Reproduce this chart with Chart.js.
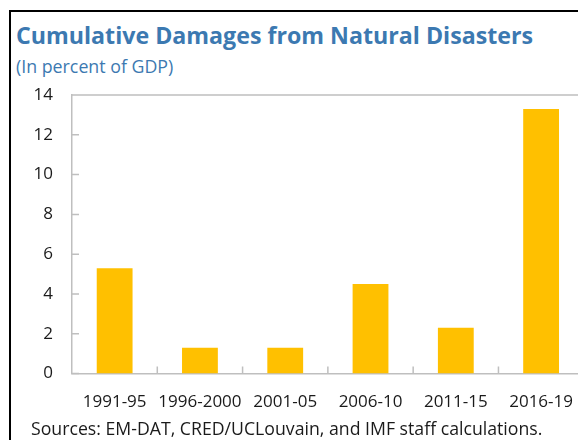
<!DOCTYPE html>
<html>
<head>
<meta charset="utf-8">
<script src="https://cdn.jsdelivr.net/npm/chart.js@4"></script>
<style>
  html, body { margin: 0; padding: 0; width: 578px; height: 440px; overflow: hidden; background: #fff; }
  .frame { position: absolute; left: 9px; top: 10px; width: 620px; height: 500px; border-top: 2px solid #000; border-left: 2px solid #000; }
  .title { position: absolute; left: 16px; top: 19px; font-family: "Open Sans", sans-serif; font-weight: 700; font-size: 23.2px; color: #3C79B1; white-space: nowrap; }
  .subtitle { position: absolute; left: 16px; top: 54px; font-family: "Open Sans", sans-serif; font-size: 17.8px; color: #3C79B1; white-space: nowrap; }
  .footer { position: absolute; left: 31px; top: 416px; font-family: "Open Sans", sans-serif; font-size: 17.7px; color: #1a1a1a; white-space: nowrap; }
  .wrap { position: absolute; left: 0; top: 0; width: 591px; height: 440px; }
</style>
</head>
<body>
<div class="frame"></div>
<div class="title">Cumulative Damages from Natural Disasters</div>
<div class="subtitle">(In percent of GDP)</div>
<div class="wrap"><canvas id="chart"></canvas></div>
<div class="footer">Sources: EM-DAT, CRED/UCLouvain, and IMF staff calculations.</div>
<script>
// Data
const periods = ['1991-95', '1996-2000', '2001-05', '2006-10', '2011-15', '2016-19'];
const damages = [5.3, 1.3, 1.3, 4.5, 2.3, 13.3];
const yTicks = [0, 2, 4, 6, 8, 10, 12, 14];

const axisGray = '#BFBFBF';
const fontFamily = '"Open Sans", sans-serif';

// inward tick marks + top frame line, placed from the scales
const frameTicks = {
    id: 'frameTicks',
    afterDraw(chart) {
        const { ctx, chartArea: area, scales } = chart;
        ctx.save();
        ctx.strokeStyle = axisGray;
        ctx.lineWidth = 1.5;
        ctx.beginPath();
        ctx.moveTo(area.left, area.top);
        ctx.lineTo(area.right, area.top);
        scales.y.ticks.forEach(t => {
            const py = scales.y.getPixelForValue(t.value);
            ctx.moveTo(area.left, py);
            ctx.lineTo(area.left + 7, py);
        });
        for (let i = 1; i < periods.length; i++) {
            const px = (scales.x.getPixelForValue(i - 1) + scales.x.getPixelForValue(i)) / 2;
            ctx.moveTo(px, area.bottom);
            ctx.lineTo(px, area.bottom - 7);
        }
        ctx.stroke();
        ctx.restore();
    }
};

new Chart(document.getElementById('chart'), {
    type: 'bar',
    data: {
        labels: periods,
        datasets: [{
            data: damages,
            backgroundColor: '#FFC000',
            borderWidth: 0,
            barPercentage: 0.42,
            categoryPercentage: 1
        }]
    },
    options: {
        responsive: true,
        maintainAspectRatio: false,
        animation: false,
        layout: { padding: { top: 95, bottom: 10, left: 0, right: 0 } },
        plugins: { legend: { display: false }, tooltip: { enabled: false } },
        scales: {
            x: {
                grid: { display: false, drawTicks: false },
                border: { display: true, color: axisGray, width: 1.5 },
                ticks: { color: '#1a1a1a', padding: 18, autoSkip: false, font: { family: fontFamily, size: 17 }, maxRotation: 0 }
            },
            y: {
                min: 0,
                max: 14,
                afterBuildTicks: scale => { scale.ticks = yTicks.map(v => ({ value: v })); },
                afterFit: scale => { scale.width = 72; },
                grid: { display: false, drawTicks: false },
                border: { display: true, color: axisGray, width: 1.5 },
                ticks: { color: '#1a1a1a', padding: 19, font: { family: fontFamily, size: 17 } }
            }
        }
    },
    plugins: [frameTicks]
});
</script>
</body>
</html>
